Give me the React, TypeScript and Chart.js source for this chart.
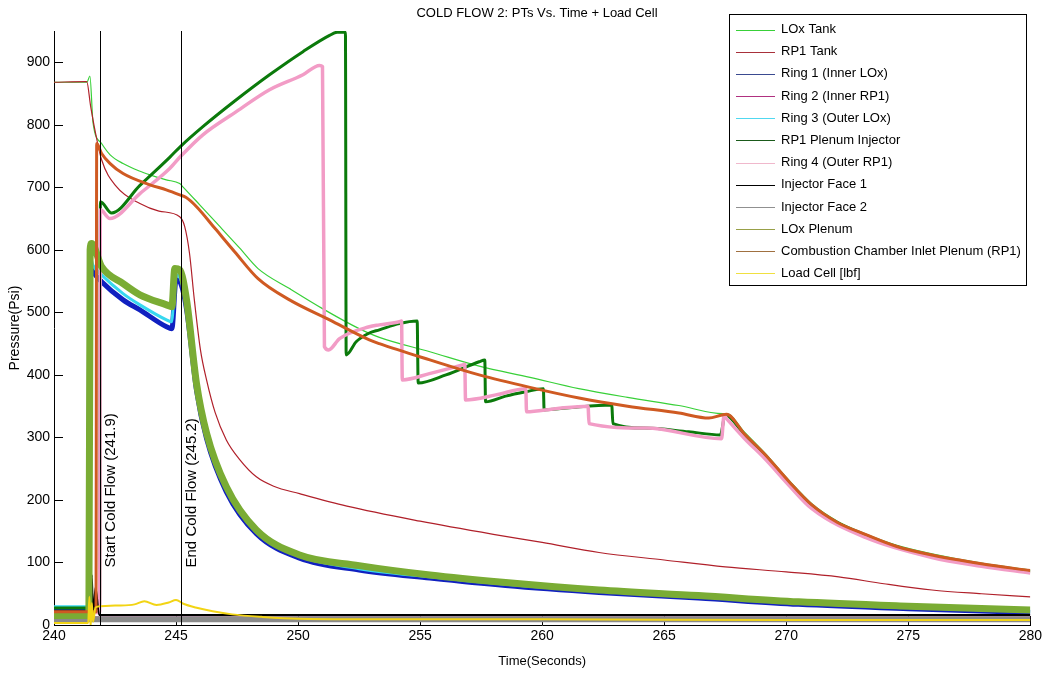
import React, { useEffect, useRef } from 'react';
import { Chart, registerables } from 'chart.js';

Chart.register(...registerables);

const W = 1045;
const H = 675;
const FONT = '"Liberation Sans", Arial, sans-serif';

const chartTitle = 'COLD FLOW 2: PTs Vs. Time + Load Cell';
const xTitle = 'Time(Seconds)';
const yTitle = 'Pressure(Psi)';
const xTicks = [240, 245, 250, 255, 260, 265, 270, 275, 280];
const yTicks = [0, 100, 200, 300, 400, 500, 600, 700, 800, 900];
const markerTimes = [241.9, 245.2];
const markerLabels = ['Start Cold Flow (241.9)', 'End Cold Flow (245.2)'];
const markerLabelY = 92;

// LOx Tank
const loxTankT = [240, 241.35, 241.47, 241.6, 241.95, 242.3, 242.83, 243.5, 243.93, 244.6, 245.15, 245.3, 245.97, 246.8, 247.6, 248.36, 249.65, 251.0, 252.5, 253.33, 255.4, 257.42, 259.5, 261.5, 263.5, 265.6, 267.4, 267.55, 268.3, 269.15, 270.1, 271.05, 272.1, 273.24, 274.5, 275.97, 278.0, 280.0];
const loxTankP = [868, 868, 878, 803, 770, 752, 738, 726, 720, 712, 706, 700, 672, 637, 603, 570, 538, 506, 474, 460, 437, 414, 396, 378, 364, 351, 338, 338, 308, 274, 232, 194, 166, 146, 128, 114, 99, 88];

// RP1 Tank
const rp1TankT = [240, 241.34, 241.5, 241.68, 241.95, 242.56, 243.52, 244.3, 245.15, 245.35, 245.55, 245.75, 246.0, 246.25, 246.6, 247.06, 247.6, 248.29, 249.0, 250.06, 252.0, 255.0, 258.0, 260.0, 262.33, 265.0, 267.5, 270.0, 272.15, 274.0, 275.97, 278.0, 280.0];
const rp1TankP = [868, 869, 830, 791, 744, 701, 674, 662, 653, 638, 595, 520, 440, 392, 340, 296, 265, 237, 222, 210, 190, 166, 145, 132, 116, 104, 93, 85, 77, 66, 56, 50, 45];

// Ring 1 (Inner LOx)
const ring1T = [240, 241.42, 241.47, 241.6, 241.95, 242.83, 243.52, 244.61, 244.83, 245.0, 245.15, 245.43, 245.84, 246.25, 247.06, 248.29, 250.06, 252.5, 255.4, 258.5, 262.33, 266.4, 270.5, 275.0, 280.0];
const ring1P = [26, 26, 576, 565, 549, 520, 504, 477, 474, 552, 549, 505, 375, 298, 213, 146, 107, 88, 75, 63, 52, 43, 33, 26, 20];

// Ring 2 (Inner RP1)
const ring2T = [240, 241.45, 241.5, 241.56, 241.62, 280];
const ring2P = [11, 11, 45, 8, 12, 12];

// Ring 3 (Outer LOx)
const ring3T = [240, 241.41, 241.46, 241.6, 241.95, 242.83, 243.52, 244.61, 244.82, 244.98, 245.15, 245.43, 245.84, 246.25, 247.06, 248.29, 250.06, 252.5, 255.4, 258.5, 262.33, 266.4, 270.5, 275.0, 280.0];
const ring3P = [29, 29, 590, 575, 560, 530, 512, 488, 485, 560, 556, 512, 380, 302, 217, 149, 110, 90, 77, 65, 54, 45, 35, 28, 22];

// RP1 Plenum Injector
const rp1PlenumT = [240, 241.87, 241.9, 242.36, 243.52, 244.74, 245.2, 246.1, 247.47, 248.83, 250.2, 251.29, 251.6, 251.94, 251.97, 252.38, 252.92, 253.33, 254.15, 254.88, 254.92, 256.06, 257.42, 257.65, 257.68, 258.5, 259.33, 260.05, 260.08, 261.0, 262.85, 262.9, 264.2, 266.0, 267.3, 267.5, 268.3, 269.15, 270.1, 271.05, 273.24, 275.97, 278.0, 280.0];
const rp1PlenumP = [27, 27, 677, 659, 703, 748, 766, 797, 840, 880, 917, 943, 948, 948, 432, 453, 467, 472, 482, 486, 387, 400, 421, 424, 357, 366, 373, 378, 344, 347, 352, 322, 315, 309, 304, 336, 303, 270, 228, 190, 143, 110, 96, 85];

// Ring 4 (Outer RP1)
const ring4T = [240, 241.87, 241.9, 242.29, 243.52, 244.74, 245.2, 246.1, 247.47, 248.83, 250.2, 250.88, 251.0, 251.08, 251.25, 251.7, 252.92, 253.33, 254.15, 254.24, 254.27, 255.38, 256.74, 256.83, 256.86, 258.1, 259.33, 259.36, 260.56, 261.88, 261.92, 264.24, 267.35, 267.45, 267.6, 268.3, 269.15, 270.1, 271.05, 273.24, 275.97, 278.0, 280.0];
const ring4P = [20, 20, 664, 650, 690, 730, 750, 784, 821, 856, 880, 895, 893, 445, 440, 458, 477, 480, 485, 486, 392, 402, 416, 417, 360, 368, 378, 341, 346, 350, 322, 315, 298, 335, 328, 298, 265, 224, 186, 140, 108, 94, 83];

// Injector Face 1
const face1T = [240, 241.5, 241.55, 241.6, 241.7, 241.85, 280];
const face1P = [22, 22, 80, 10, 60, 16, 16];

// Injector Face 2
const face2T = [240, 280];
const face2P = [9, 9];

// LOx Plenum
const loxPlenumT = [240, 241.43, 241.48, 241.54, 241.95, 242.83, 243.52, 244.61, 244.83, 244.95, 245.15, 245.43, 245.84, 246.25, 247.06, 248.29, 250.06, 252.5, 255.4, 258.5, 262.33, 266.4, 270.5, 275.0, 280.0];
const loxPlenumP = [15, 15, 600, 610, 573, 546, 528, 512, 509, 570, 568, 520, 386, 307, 221, 152, 112, 95, 80, 68, 56, 47, 37, 30, 24];

// Combustion Chamber Inlet Plenum (RP1)
const ccPlenumT = [240, 241.72, 241.75, 241.95, 242.3, 242.83, 243.93, 244.6, 245.15, 245.4, 245.84, 246.6, 247.4, 248.36, 249.65, 251.29, 252.92, 253.33, 255.4, 257.42, 259.5, 261.51, 263.5, 265.6, 266.83, 267.37, 267.55, 268.3, 269.15, 270.1, 271.05, 272.1, 273.24, 274.5, 275.97, 278.0, 280.0];
const ccPlenumP = [21, 21, 770, 754, 738, 722, 704, 696, 688, 684, 669, 634, 597, 554, 520, 488, 456, 450, 424, 400, 380, 363, 350, 339, 331, 336, 337, 305, 272, 230, 192, 164, 145, 126, 112, 98, 87];

// Load Cell [lbf]
const loadCellT = [240, 241.4, 241.45, 241.5, 241.55, 241.6, 241.7, 241.9, 242.5, 243.3, 243.7, 244.2, 244.7, 245.0, 245.3, 245.8, 246.5, 247.3, 248.5, 250.0, 255.0, 260.0, 270.0, 280.0];
const loadCellP = [3, 3, 45, -3, 35, 5, 28, 30, 31, 33, 38, 32, 36, 40, 34, 28, 22, 17, 13, 10, 9, 9, 8, 8];

const seriesNames = [
  'LOx Tank',
  'RP1 Tank',
  'Ring 1 (Inner LOx)',
  'Ring 2 (Inner RP1)',
  'Ring 3 (Outer LOx)',
  'RP1 Plenum Injector',
  'Ring 4 (Outer RP1)',
  'Injector Face 1',
  'Injector Face 2',
  'LOx Plenum',
  'Combustion Chamber Inlet Plenum (RP1)',
  'Load Cell [lbf]',
];
const seriesTimes = [loxTankT, rp1TankT, ring1T, ring2T, ring3T, rp1PlenumT, ring4T, face1T, face2T, loxPlenumT, ccPlenumT, loadCellT];
const seriesValues = [loxTankP, rp1TankP, ring1P, ring2P, ring3P, rp1PlenumP, ring4P, face1P, face2P, loxPlenumP, ccPlenumP, loadCellP];

const seriesColors = ['#38d038', '#b0202a', '#1020c0', '#c01890', '#38d8f0', '#0b7a0b', '#f29cc6', '#000000', '#8a8a8a', '#7aac34', '#cf5a22', '#f2d414'];
const legendColors = ['#38d038', '#a8303a', '#3a4a90', '#b03080', '#50d8f0', '#1a5a1a', '#f0b8cc', '#000000', '#909090', '#98a048', '#a07040', '#f0e040'];
const seriesWidths = [1.2, 1.2, 5, 2, 3, 3, 3.5, 2, 6, 7, 3, 2];

export default function App() {
  const ref = useRef<HTMLCanvasElement>(null);

  useEffect(() => {
    const canvas = ref.current;
    if (!canvas) return;

    const datasets = seriesNames.map((name, i) => ({
      label: name,
      data: seriesTimes[i].map((t, k) => ({ x: t, y: seriesValues[i][k] })),
      borderColor: seriesColors[i],
      backgroundColor: seriesColors[i],
      borderWidth: seriesWidths[i],
      pointRadius: 0,
      pointHoverRadius: 0,
      showLine: true,
      cubicInterpolationMode: 'monotone' as const,
      fill: false,
      borderJoinStyle: 'round' as const,
      order: seriesNames.length - i,
    }));

    const overlay = {
      id: 'overlay',
      beforeDatasetsDraw(chart: any) {
        const { ctx, chartArea, scales } = chart;
        ctx.save();
        ctx.strokeStyle = '#000';
        ctx.lineWidth = 1;
        ctx.beginPath();
        xTicks.forEach((v) => {
          const px = Math.round(scales.x.getPixelForValue(v)) + 0.5;
          ctx.moveTo(px, chartArea.bottom);
          ctx.lineTo(px, chartArea.bottom - 9);
        });
        yTicks.forEach((v) => {
          const py = Math.round(scales.y.getPixelForValue(v)) + 0.5;
          ctx.moveTo(chartArea.left, py);
          ctx.lineTo(chartArea.left + 9, py);
        });
        ctx.stroke();
        ctx.restore();
      },
      afterDatasetsDraw(chart: any) {
        const { ctx, chartArea, scales } = chart;
        ctx.save();
        ctx.strokeStyle = '#000';
        ctx.lineWidth = 1;
        markerTimes.forEach((t, i) => {
          const px = Math.round(scales.x.getPixelForValue(t)) + 0.5;
          ctx.beginPath();
          ctx.moveTo(px, chartArea.top);
          ctx.lineTo(px, chartArea.bottom);
          ctx.stroke();
          const py = scales.y.getPixelForValue(markerLabelY);
          ctx.save();
          ctx.translate(px + 10.5, py);
          ctx.rotate(-Math.PI / 2);
          ctx.fillStyle = '#000';
          ctx.font = `15px ${FONT}`;
          ctx.textAlign = 'left';
          ctx.textBaseline = 'middle';
          ctx.fillText(markerLabels[i], 0, 0);
          ctx.restore();
        });
        ctx.restore();
      },
      afterDraw(chart: any) {
        const { ctx, chartArea } = chart;
        ctx.save();
        ctx.fillStyle = '#000';
        ctx.font = `13px ${FONT}`;
        ctx.textAlign = 'center';
        ctx.textBaseline = 'middle';
        ctx.fillText(chartTitle, 537, 13);
        ctx.font = `13px ${FONT}`;
        ctx.fillText(xTitle, (chartArea.left + chartArea.right) / 2, 661);
        ctx.save();
        ctx.translate(15, (chartArea.top + chartArea.bottom) / 2);
        ctx.rotate(-Math.PI / 2);
        ctx.font = `14px ${FONT}`;
        ctx.fillText(yTitle, 0, 0);
        ctx.restore();

        // legend
        const bx = 729.5, by = 14.5, bw = 297, bh = 271;
        ctx.fillStyle = '#fff';
        ctx.fillRect(bx, by, bw, bh);
        ctx.strokeStyle = '#000';
        ctx.lineWidth = 1;
        ctx.strokeRect(bx, by, bw, bh);
        ctx.font = `13px ${FONT}`;
        ctx.textAlign = 'left';
        ctx.textBaseline = 'middle';
        seriesNames.forEach((name, i) => {
          const y = 29.5 + i * 22.18;
          ctx.strokeStyle = legendColors[i];
          ctx.lineWidth = 1.2;
          ctx.beginPath();
          ctx.moveTo(736, Math.round(y) + 0.5);
          ctx.lineTo(775, Math.round(y) + 0.5);
          ctx.stroke();
          ctx.fillStyle = '#000';
          ctx.fillText(name, 781, y);
        });
        ctx.restore();
      },
    };

    const chart = new Chart(canvas, {
      type: 'scatter',
      data: { datasets: datasets as any },
      options: {
        animation: false,
        responsive: false,
        devicePixelRatio: 1,
        events: [],
        layout: { padding: { top: 31, right: 13, left: 0, bottom: 0 } },
        plugins: {
          legend: { display: false },
          title: { display: false },
          tooltip: { enabled: false },
        },
        scales: {
          x: {
            type: 'linear',
            min: 240,
            max: 280,
            afterBuildTicks: (s: any) => {
              s.ticks = xTicks.map((v) => ({ value: v }));
            },
            afterFit: (s: any) => {
              s.height = 50;
            },
            grid: { display: false, drawTicks: false },
            border: { display: true, color: '#000', width: 1 },
            ticks: {
              font: { family: FONT, size: 14 },
              color: '#000',
              padding: 3,
              maxRotation: 0,
              autoSkip: false,
            },
          },
          y: {
            type: 'linear',
            min: 0,
            max: 950,
            afterBuildTicks: (s: any) => {
              s.ticks = yTicks.map((v) => ({ value: v }));
            },
            afterFit: (s: any) => {
              s.width = 54;
            },
            grid: { display: false, drawTicks: false },
            border: { display: true, color: '#000', width: 1 },
            ticks: {
              font: { family: FONT, size: 14 },
              color: '#000',
              padding: 4,
              autoSkip: false,
            },
          },
        },
      },
      plugins: [overlay],
    });

    return () => chart.destroy();
  }, []);

  return (
    <div style={{ position: 'absolute', left: 0, top: 0, width: W, height: H, background: '#fff' }}>
      <canvas ref={ref} width={W} height={H} style={{ display: 'block', width: W, height: H }} />
    </div>
  );
}
